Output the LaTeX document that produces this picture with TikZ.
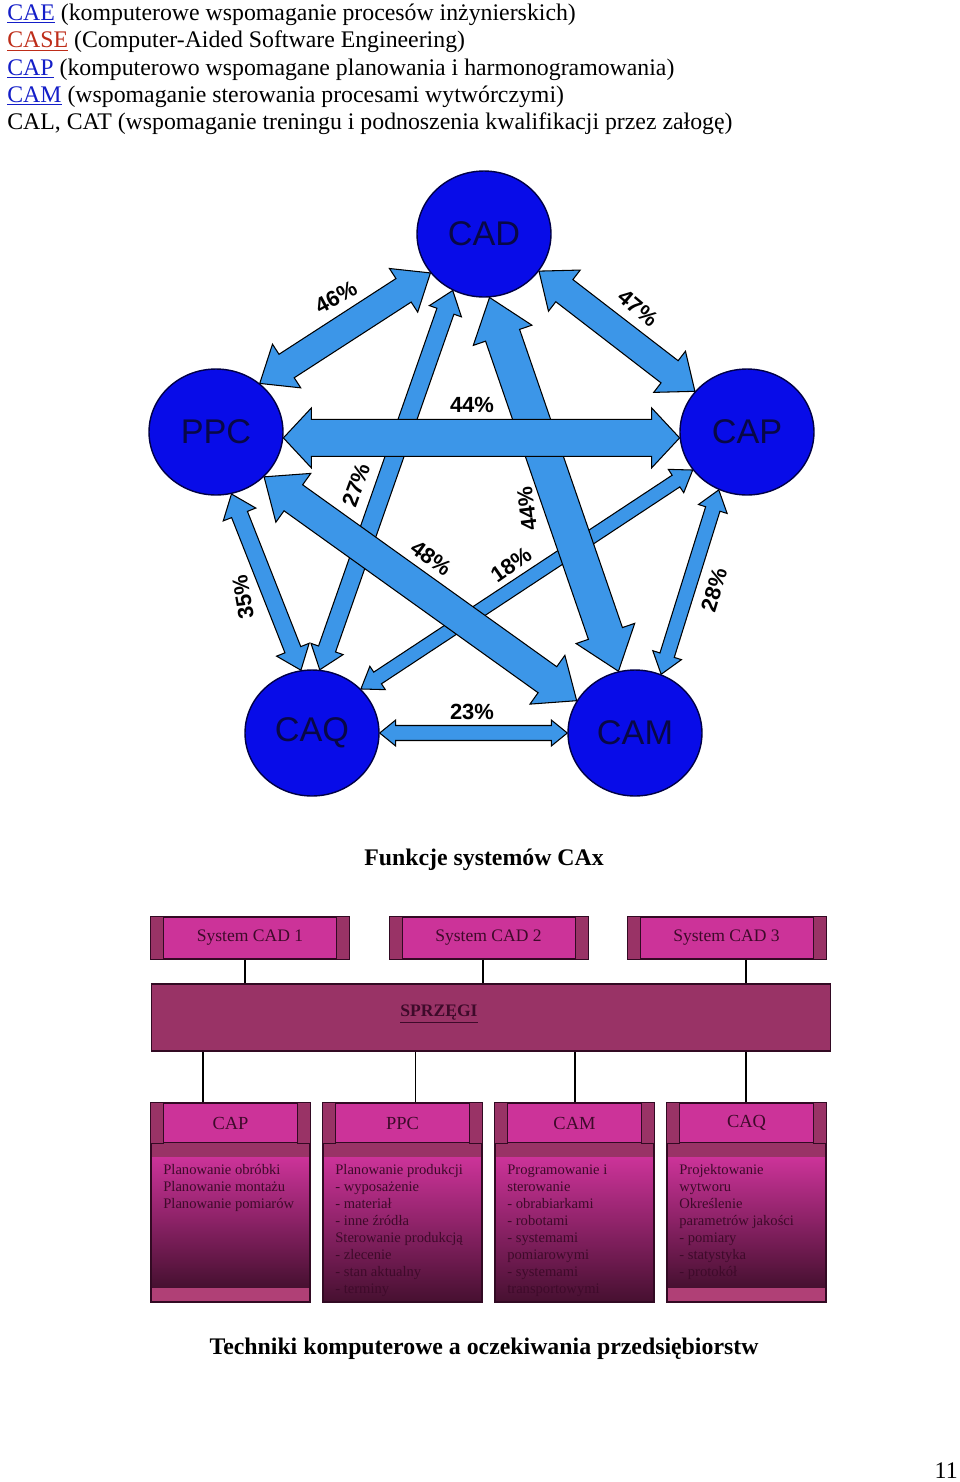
\documentclass[tikz,border=0pt]{standalone}
\usepackage{fontspec}
\setmainfont{Liberation Serif}
\newfontfamily\arialfont{Liberation Sans}
\usepackage{tikz}
\usetikzlibrary{shapes.geometric, calc, backgrounds}
\definecolor{cLink}{RGB}{20,30,200}
\definecolor{cCase}{RGB}{190,45,25}
\definecolor{cBall}{RGB}{8,12,232}
\definecolor{cBallEdge}{RGB}{0,0,70}
\definecolor{cBallText}{RGB}{8,8,70}
\definecolor{cFlow}{RGB}{60,150,232}
\definecolor{cMag}{RGB}{204,51,153}
\definecolor{cDark}{RGB}{153,51,102}
\definecolor{cBand}{RGB}{176,64,118}
\definecolor{cDeep}{RGB}{70,16,48}
\definecolor{cEdge}{RGB}{50,10,35}
\definecolor{cInk}{RGB}{62,10,42}
\tikzset{
	pagetext/.style={font=\fontsize{13.55}{15.7}\selectfont, inner sep=0pt},
	titletext/.style={pagetext, font=\bfseries\fontsize{13.55}{15.7}\selectfont},
	% pentagon styles
	ball/.style={ellipse, minimum width=2.68cm, minimum height=2.52cm, inner sep=0pt, fill=cBall, draw=cBallEdge, line width=0.8pt, text=cBallText, font=\arialfont\fontsize{19.5}{20}\selectfont},
	flow/.style={fill=cFlow, draw=black, line width=0.6pt, line join=miter},
	pct/.style={font=\arialfont\bfseries\fontsize{12.5}{13}\selectfont, inner sep=1pt},
	% block scheme styles
	sysbox/.style={rectangle, minimum width=3.96cm, minimum height=0.84cm, fill=cMag, draw=cEdge, line width=0.6pt, text=cInk, font=\fontsize{10}{12}\selectfont},
	headbox/.style={sysbox, minimum width=3.18cm, minimum height=0.8cm, font=\fontsize{10.5}{12}\selectfont},
	strip/.style={fill=cDark, draw=cEdge, line width=0.5pt},
	body/.style={top color=cMag, middle color=cMag!78!cDeep, bottom color=cDeep},
	bodytext/.style={anchor=north west, inner sep=0pt, align=left, text=cInk, font=\fontsize{8.3}{9.7}\selectfont},
	wire/.style={draw=black, line width=0.6pt},
}
% double block arrow: from, to, half shaft, half head, head length
\newcommand{\blockarrow}[5]{%
	\filldraw[flow] (#1)
		-- ($(#1)!#5!(#2)!#4!90:(#2)$) -- ($(#1)!#5!(#2)!#3!90:(#2)$)
		-- ($(#2)!#5!(#1)!#3!-90:(#1)$) -- ($(#2)!#5!(#1)!#4!-90:(#1)$)
		-- (#2)
		-- ($(#2)!#5!(#1)!#4!90:(#1)$) -- ($(#2)!#5!(#1)!#3!90:(#1)$)
		-- ($(#1)!#5!(#2)!#3!-90:(#2)$) -- ($(#1)!#5!(#2)!#4!-90:(#2)$)
		-- cycle;
}
\begin{document}
\begin{tikzpicture}[x=0.02cm, y=-0.02cm]
	\useasboundingbox (0,0) rectangle (960,1482);
	% list of abbreviations
	\node[pagetext, anchor=base west] (l1) at (7,20) {\textcolor{cLink}{\underline{CAE}} (komputerowe wspomaganie procesów inżynierskich)};
	\node[pagetext, anchor=base west] (l2) at (7,47.5) {\textcolor{cCase}{\underline{CASE}} (Computer-Aided Software Engineering)};
	\node[pagetext, anchor=base west] (l3) at (7,75) {\textcolor{cLink}{\underline{CAP}} (komputerowo wspomagane planowania i harmonogramowania)};
	\node[pagetext, anchor=base west] (l4) at (7,102) {\textcolor{cLink}{\underline{CAM}} (wspomaganie sterowania procesami wytwórczymi)};
	\node[pagetext, anchor=base west] (l5) at (7,129.5) {CAL, CAT (wspomaganie treningu i podnoszenia kwalifikacji przez załogę)};

	% pentagon of systems
	\node[ball] (cad) at (484,234) {CAD};
	\node[ball] (ppc) at (216,432) {PPC};
	\node[ball] (cap) at (747,432) {CAP};
	\node[ball] (caq) at (312,733) {CAQ};
	\node[ball] (cam) at (635,733) {CAM};
	\begin{scope}[on background layer]
		\fill[white] (0,0) rectangle (960,1482);
		\blockarrow{cap.215}{caq.42}{0.14cm}{0.28cm}{0.40cm}
		\blockarrow{cad.241}{caq.83}{0.18cm}{0.34cm}{0.44cm}
		\blockarrow{cap.244}{cam.66}{0.15cm}{0.30cm}{0.40cm}
		\blockarrow{ppc.284}{caq.100}{0.17cm}{0.35cm}{0.44cm}
		\blockarrow{caq.0}{cam.180}{0.15cm}{0.26cm}{0.32cm}
		\blockarrow{ppc.48}{cad.216}{0.28cm}{0.52cm}{0.64cm}
		\blockarrow{cad.326}{cap.142}{0.28cm}{0.52cm}{0.64cm}
		\blockarrow{cad.275}{cam.105}{0.36cm}{0.62cm}{0.80cm}
		\blockarrow{ppc.317}{cam.151}{0.32cm}{0.60cm}{0.72cm}
		\blockarrow{ppc.-5}{cap.185}{0.37cm}{0.60cm}{0.56cm}
	\end{scope}
	\node[pct, rotate=28] (p46) at (336,297) {46\%};
	\node[pct, rotate=-40] (p47) at (638,308) {47\%};
	\node[pct] (p44a) at (472,405) {44\%};
	\node[pct, rotate=70] (p27) at (356,485) {27\%};
	\node[pct, rotate=97] (p44b) at (527,509) {44\%};
	\node[pct, rotate=-36] (p48) at (431,558) {48\%};
	\node[pct, rotate=35] (p18) at (511,565) {18\%};
	\node[pct, rotate=100] (p35) at (243,597) {35\%};
	\node[pct, rotate=73] (p28) at (714,590) {28\%};
	\node[pct] (p23) at (472,712) {23\%};
	\node[titletext] (cap1) at (484,860) {Funkcje systemów CAx};

	% block scheme
	\node[sysbox] (cad1) at (250,938) {System CAD 1};
	\node[sysbox] (cad2) at (488.5,938) {System CAD 2};
	\node[sysbox] (cad3) at (726.5,938) {System CAD 3};
	\node[rectangle, fill=cDark, draw=cEdge, line width=0.6pt, minimum width=13.6cm, minimum height=1.34cm] (sprzegi) at (491,1017.5) {};
	\node[font=\bfseries\fontsize{10}{12}\selectfont, text=cInk] (sprz) at (439,1014) {\underline{SPRZĘGI}};
	\foreach \n/\x/\ttl/\yb in {cap/151/CAP/1288, ppc/323/PPC/1302, cam/495/CAM/1302, caq/667/CAQ/1288} {
		\node[headbox] (h\n) at (\x+79.5,1123) {\ttl};
		\fill[cDark] (\x,1143) rectangle (\x+159,1157);
		\shade[body] (\x,1157) rectangle (\x+159,\yb);
		\fill[cBand] (\x,\yb) rectangle (\x+159,1302);
		\draw[cEdge, line width=0.6pt] (\x,1103) rectangle (\x+159,1302);
	}
	\foreach \n in {cad1,cad2,cad3,hcap,hppc,hcam,hcaq} {
		\filldraw[strip] (\n.north west) rectangle ($(\n.south west)+(13,0)$);
		\filldraw[strip] (\n.north east) rectangle ($(\n.south east)+(-13,0)$);
	}
	\foreach \n/\dx in {cad1/-5, cad2/-5.5, cad3/19.5} {
		\path ($(\n.south)+(\dx,0)$) coordinate (u\n);
		\draw[wire] (u\n) -- (u\n |- sprzegi.north);
	}
	\foreach \n/\dx in {cap/-27.5, ppc/13, cam/0.5, caq/-0.5} {
		\path ($(h\n.north)+(\dx,0)$) coordinate (w\n);
		\draw[wire] (w\n) -- (w\n |- sprzegi.south);
	}
	\node[bodytext] (tcap) at (163,1164) {Planowanie obróbki\\Planowanie montażu\\Planowanie pomiarów};
	\node[bodytext] (tppc) at (335,1164) {Planowanie produkcji\\- wyposażenie\\- materiał\\- inne źródła\\Sterowanie produkcją\\- zlecenie\\- stan aktualny\\- terminy};
	\node[bodytext] (tcam) at (507,1164) {Programowanie i\\sterowanie\\- obrabiarkami\\- robotami\\- systemami\\pomiarowymi\\- systemami\\transportowymi};
	\node[bodytext] (tcaq) at (679,1164) {Projektowanie\\wytworu\\Określenie\\parametrów jakości\\- pomiary\\- statystyka\\- protokół};
	\node[titletext] (cap2) at (484,1349) {Techniki komputerowe a oczekiwania przedsiębiorstw};
	\node[pagetext, anchor=base east] (pnum) at (958,1478) {11};
\end{tikzpicture}
\end{document}
